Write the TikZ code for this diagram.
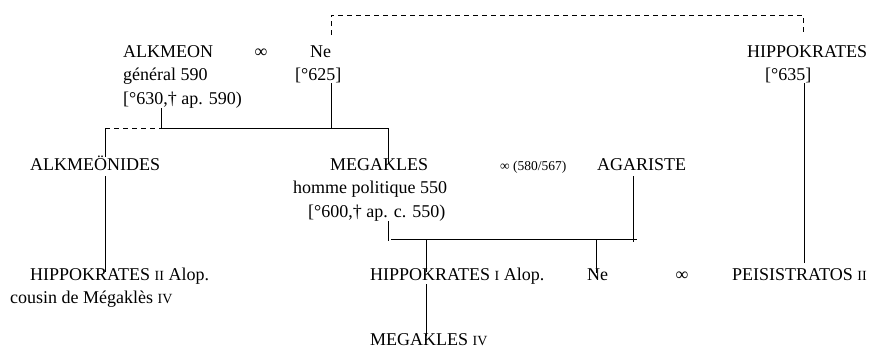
\documentclass[tikz,border=0pt]{standalone}
\usepackage{fontspec}
\setmainfont{Liberation Serif}
\newcommand{\smc}[1]{{\fontsize{14}{14}\selectfont #1}}
\begin{document}
\begin{tikzpicture}[x=1pt,y=-1pt,
  txt/.style={anchor=base west,inner sep=0pt,font=\fontsize{18}{23.5}\selectfont},
  sym/.style={anchor=base,inner sep=0pt,font=\fontsize{18}{23.5}\selectfont},
  small/.style={anchor=base west,inner sep=0pt,font=\fontsize{13.5}{16}\selectfont},
  link/.style={line width=0.7pt,black},
  dlink/.style={line width=0.7pt,black,dash pattern=on 5pt off 4pt}]
\useasboundingbox (0,0) rectangle (891,349);
% generation 1
\node[txt] (alk)  at (123,57)   {ALKMEON};
\node[txt] (alk2) at (123,80.5) {général 590};
\node[txt] (alk3) at (123,104)  {[°630,† ap. 590)};
\node[sym] (mar1) at (261,57)   {∞};
\node[txt] (ne)   at (310,57)   {Ne};
\node[txt] (ne2)  at (295,80.5) {[°625]};
\node[txt] (hip)  at (747,57)   {HIPPOKRATES};
\node[txt] (hip2) at (765,80.5) {[°635]};
% generation 2
\node[txt] (alkn) at (30,170)   {ALKMEÖNIDES};
\node[txt] (meg)  at (330,170)  {MEGAKLES};
\node[txt] (meg2) at (293,193.5){homme politique 550};
\node[txt] (meg3) at (308,217)  {[°600,† ap. c. 550)};
\node[small] (mar2) at (500,170) {∞ (580/567)};
\node[txt] (agar) at (597,170)  {AGARISTE};
% generation 3
\node[txt] (hipb) at (30,280)   {HIPPOKRATES \smc{II} Alop.};
\node[txt] (hipb2) at (10,303.5){cousin de Mégaklès \smc{IV}};
\node[txt] (hipa) at (370,280)  {HIPPOKRATES \smc{I} Alop.};
\node[txt] (ne3)  at (587,280)  {Ne};
\node[sym] (mar3) at (682,280)  {∞};
\node[txt] (peis) at (732,280)  {PEISISTRATOS \smc{II}};
% generation 4
\node[txt] (meg4) at (370,345)  {MEGAKLES \smc{IV}};
% junction coordinates
\coordinate (tL) at (331,15);
\coordinate (tR) at (803,15);
\coordinate (m1) at (161,128);
\coordinate (m1r) at (331,128);
\coordinate (bL) at (105,128);
\coordinate (bR) at (388,128);
\coordinate (hx) at (804,0);
\coordinate (m2) at (388,241);
\coordinate (hL) at (391,239.5);
\coordinate (hR) at (637,239.5);
\coordinate (ax) at (633,242);
\coordinate (c1) at (426,239.5);
\coordinate (c2) at (596,239.5);
% connectors
\draw[dlink] ([yshift=-20pt]tL) -- (tL) -- (tR) -- ([yshift=-20pt]tR);
\draw[link] (alk3.south -| m1) -- (m1);
\draw[link] (ne2.south -| m1r) -- (m1r);
\draw[dlink] (bL) -- (m1);
\draw[link] (m1) -- (bR);
\draw[link,shorten >=-2pt] (bL) -- (bL |- alkn.north);
\draw[link,shorten >=-6pt] (bR) -- (bR |- meg.north);
\draw[link,shorten <=6pt,shorten >=-5pt] (alkn.south -| bL) -- (bL |- hipb.north);
\draw[link] (hip2.south -| hx) -- ([yshift=5pt]peis.north -| hx);
\draw[link] (meg3.south -| m2) -- (m2);
\draw[link] (hL) -- (hR);
\draw[link,shorten <=6pt] (agar.south -| ax) -- (ax);
\draw[link,shorten >=-5pt] (c1) -- (c1 |- hipa.north);
\draw[link,shorten >=-5pt] (c2) -- (c2 |- ne3.north);
\draw[link,shorten >=-3pt] (hipa.south -| c1) -- (c1 |- meg4.north);
\end{tikzpicture}
\end{document}
